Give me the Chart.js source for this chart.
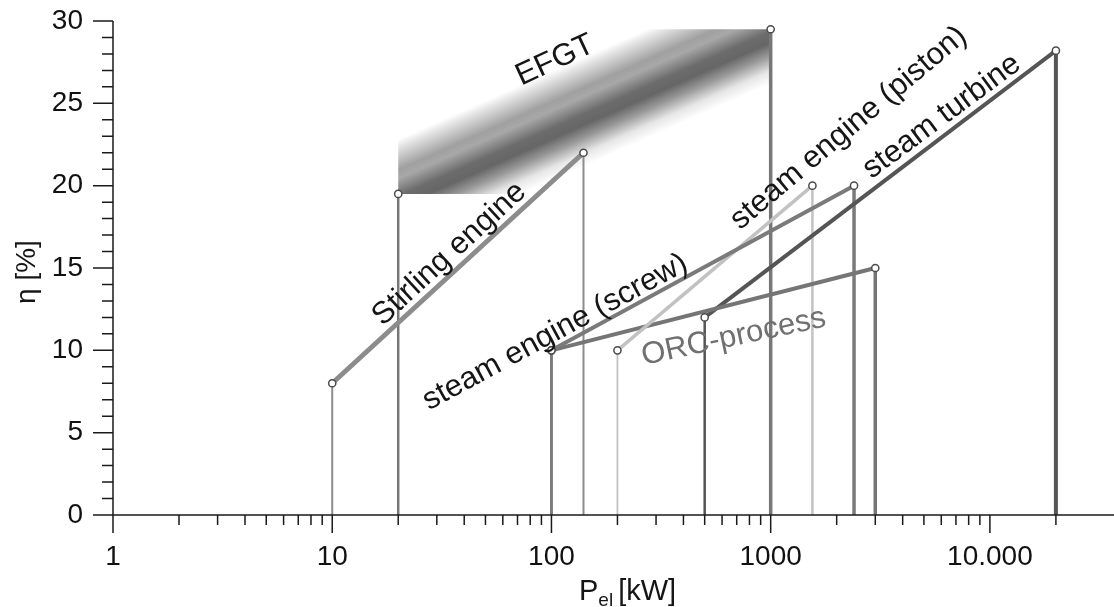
<!DOCTYPE html>
<html><head><meta charset="utf-8">
<script src="https://cdn.jsdelivr.net/npm/chart.js@4/dist/chart.umd.min.js"></script>
<style>html,body{margin:0;padding:0;background:#fff;}#wrap{position:relative;width:1114px;height:607px;}</style>
</head><body><div id="wrap"><canvas id="c"></canvas></div>
<script>
// ---- data ----
const seriesNames = ['Stirling engine', 'EFGT', 'steam engine (screw)', 'steam engine (piston)', 'ORC-process', 'steam turbine'];
const powerStart = [10, 20, 100, 200, 100, 500];        // kW
const powerEnd   = [140, 1000, 2400, 1550, 3000, 20000]; // kW
const effStart   = [8, 19.5, 10, 10, 10, 12];            // %
const effEnd     = [22, 29.5, 20, 20, 15, 28.2];         // %
const xTickValues = [1, 10, 100, 1000, 10000];
const xTickLabels = ['1', '10', '100', '1000', '10.000'];
const yTickValues = [0, 5, 10, 15, 20, 25, 30];

// ---- styles ----
const FONT = '"Liberation Sans", Arial, Helvetica, sans-serif';
const seriesColors = ['#8c8c8c', '#777777', '#7a7a7a', '#c2c2c2', '#757575', '#555555'];
const seriesWidths = [5, 0, 4, 3.5, 4, 4];
const dropStartWidths = [2, 2.5, 2.5, 1.8, 2.5, 2.5];
const dropEndWidths = [2, 3.5, 3.5, 2.5, 3.5, 4];
const EFGT = 1;
// label annotations (anchor in data coords, angle in degrees)
const labelDefs = [
  {s: 0, x: 34.2, y: 15.85, angle: 42.5, color: '#151515'},
  {s: 1, x: 104, y: 27.6, angle: 25, color: '#151515'},
  {s: 2, x: 104, y: 11.1, angle: 28.5, color: '#151515'},
  {s: 3, x: 2270, y: 23.5, angle: 40, color: '#151515'},
  {s: 4, x: 678, y: 10.8, angle: 12, color: '#707070'},
  {s: 5, x: 6040, y: 24.2, angle: 36.5, color: '#151515'}
];

function efgtGradient(c) {
  const chart = c.chart;
  const xs = chart.scales.x, ys = chart.scales.y;
  if (!chart.chartArea || !xs || !ys) return '#888';
  const x0 = xs.getPixelForValue(powerStart[EFGT]), y0 = ys.getPixelForValue(effStart[EFGT]);
  const x1 = xs.getPixelForValue(powerEnd[EFGT]), y1 = ys.getPixelForValue(effEnd[EFGT]);
  if (!isFinite(x0) || !isFinite(y0) || !isFinite(x1) || !isFinite(y1)) return '#888';
  const dx = x1 - x0, dy = y1 - y0, len = Math.hypot(dx, dy);
  const nx = dy / len, ny = -dx / len; // points to upper-left side
  const hw = 50;
  const g = chart.ctx.createLinearGradient(x0 + nx * hw, y0 + ny * hw, x0 - nx * hw, y0 - ny * hw);
  g.addColorStop(0, '#ffffff');
  g.addColorStop(0.08, '#e2e2e2');
  g.addColorStop(0.28, '#a0a0a0');
  g.addColorStop(0.36, '#a8a8a8');
  g.addColorStop(0.52, '#6c6c6c');
  g.addColorStop(0.62, '#666666');
  g.addColorStop(0.74, '#9a9a9a');
  g.addColorStop(0.88, '#e6e6e6');
  g.addColorStop(1, '#ffffff');
  return g;
}

const datasets = [];
// markers (drawn on top: first dataset)
const markerPts = [];
for (let i = 0; i < seriesNames.length; i++) {
  markerPts.push({x: powerStart[i], y: effStart[i]}, {x: powerEnd[i], y: effEnd[i]});
}
datasets.push({type: 'scatter', label: 'markers', data: markerPts, showLine: false, pointRadius: 3.6,
  pointBackgroundColor: '#ffffff', pointBorderColor: '#4a4a4a', pointBorderWidth: 1.5, clip: false});
// series lines
for (let i = 0; i < seriesNames.length; i++) {
  if (i === EFGT) continue;
  datasets.push({type: 'line', label: seriesNames[i],
    data: [{x: powerStart[i], y: effStart[i]}, {x: powerEnd[i], y: effEnd[i]}],
    borderColor: seriesColors[i], borderWidth: seriesWidths[i], pointRadius: 0, tension: 0, clip: false});
}
// drop lines
for (let i = 0; i < seriesNames.length; i++) {
  datasets.push({type: 'line', label: seriesNames[i] + ' start',
    data: [{x: powerStart[i], y: effStart[i]}, {x: powerStart[i], y: 0}],
    borderColor: seriesColors[i], borderWidth: dropStartWidths[i], pointRadius: 0, clip: false});
  datasets.push({type: 'line', label: seriesNames[i] + ' end',
    data: [{x: powerEnd[i], y: effEnd[i]}, {x: powerEnd[i], y: 0}],
    borderColor: seriesColors[i], borderWidth: dropEndWidths[i], pointRadius: 0, clip: false});
}
// EFGT band (drawn first: last dataset)
datasets.push({type: 'line', label: seriesNames[EFGT], efgtBand: true,
  data: [{x: powerStart[EFGT], y: effStart[EFGT]}, {x: powerEnd[EFGT], y: effEnd[EFGT]}],
  borderColor: efgtGradient, borderWidth: 100, borderCapStyle: 'square', pointRadius: 0, clip: false});

const bandClip = {
  id: 'bandClip',
  beforeDatasetDraw(chart, args) {
    if (!chart.data.datasets[args.index].efgtBand) return;
    const xs = chart.scales.x, ys = chart.scales.y, ctx = chart.ctx;
    const l = xs.getPixelForValue(powerStart[EFGT]), r = xs.getPixelForValue(powerEnd[EFGT]);
    const t = ys.getPixelForValue(effEnd[EFGT]), b = ys.getPixelForValue(effStart[EFGT]);
    ctx.save(); ctx.beginPath(); ctx.rect(l, t, r - l, b - t); ctx.clip();
  },
  afterDatasetDraw(chart, args) {
    if (chart.data.datasets[args.index].efgtBand) chart.ctx.restore();
  }
};

const axesAndText = {
  id: 'axesAndText',
  afterDraw(chart) {
    const ctx = chart.ctx, xs = chart.scales.x, ys = chart.scales.y;
    const x0 = xs.getPixelForValue(xTickValues[0]);
    const yb = ys.getPixelForValue(0), yt = ys.getPixelForValue(yTickValues[yTickValues.length - 1]);
    ctx.save();
    ctx.strokeStyle = '#1a1a1a'; ctx.lineWidth = 1.5; ctx.lineCap = 'butt';
    ctx.beginPath();
    ctx.moveTo(x0, yt); ctx.lineTo(x0, yb);
    for (let v = 0; v <= 30; v++) {
      const y = ys.getPixelForValue(v);
      const len = v % 5 === 0 ? 20 : 11;
      ctx.moveTo(x0 - len, y); ctx.lineTo(x0, y);
    }
    ctx.moveTo(x0 - 16, yb); ctx.lineTo(chart.width, yb);
    for (const d of xTickValues) {
      const px = xs.getPixelForValue(d);
      ctx.moveTo(px, yb); ctx.lineTo(px, yb + 18);
      for (let m = 2; m <= 9; m++) {
        const v = m * d;
        if (v > powerEnd[5]) break;
        const p = xs.getPixelForValue(v);
        ctx.moveTo(p, yb); ctx.lineTo(p, yb + 10);
      }
    }
    ctx.stroke();

    // in-plot labels
    ctx.textAlign = 'center'; ctx.textBaseline = 'middle';
    for (const L of labelDefs) {
      const px = xs.getPixelForValue(L.x), py = ys.getPixelForValue(L.y);
      ctx.save();
      ctx.translate(px, py); ctx.rotate(-L.angle * Math.PI / 180);
      ctx.font = '31px ' + FONT; ctx.fillStyle = L.color;
      ctx.fillText(seriesNames[L.s], 0, 0);
      ctx.restore();
    }

    // y-axis title
    ctx.save();
    ctx.translate(27, (chart.chartArea.top + chart.chartArea.bottom) / 2 + 4);
    ctx.rotate(-Math.PI / 2);
    ctx.font = '28px ' + FONT; ctx.fillStyle = '#151515';
    ctx.fillText('η [%]', 0, 0);
    ctx.restore();

    // x-axis title P_el [kW]
    ctx.font = '29px ' + FONT; ctx.fillStyle = '#151515';
    ctx.textAlign = 'left'; ctx.textBaseline = 'alphabetic';
    const tx = 579, ty = 600;
    ctx.fillText('P', tx, ty);
    const wP = ctx.measureText('P').width;
    ctx.font = '19px ' + FONT;
    ctx.fillText('el', tx + wP, ty + 6);
    const wE = ctx.measureText('el').width;
    ctx.font = '29px ' + FONT;
    ctx.fillText(' [kW]', tx + wP + wE - 3, ty);
    ctx.restore();
  }
};

new Chart(document.getElementById('c'), {
  type: 'line',
  data: {datasets},
  options: {
    responsive: true, maintainAspectRatio: false, animation: false,
    layout: {padding: {top: 21, right: 2, left: 0, bottom: 0}},
    plugins: {legend: {display: false}, tooltip: {enabled: false}},
    scales: {
      x: {
        type: 'logarithmic', min: 1, max: 34750,
        grid: {display: false, drawTicks: false, tickLength: 0},
        border: {display: false},
        afterBuildTicks: (s) => { s.ticks = xTickValues.map(v => ({value: v, major: true})); },
        afterFit: (s) => { s.height = 92; s.paddingLeft = 0; s.paddingRight = 0; },
        ticks: {autoSkip: false, maxRotation: 0, minRotation: 0, padding: 25, color: '#111',
          font: {size: 28, family: FONT},
          callback: (v) => { const k = xTickValues.indexOf(v); return k >= 0 ? xTickLabels[k] : ''; }}
      },
      y: {
        type: 'linear', min: 0, max: 30,
        grid: {display: false, drawTicks: false, tickLength: 0},
        border: {display: false},
        afterBuildTicks: (s) => { s.ticks = yTickValues.map(v => ({value: v})); },
        afterFit: (s) => { s.width = 113; s.paddingTop = 0; s.paddingBottom = 0; },
        ticks: {padding: 30, color: '#111', font: {size: 28, family: FONT},
          callback: (v) => String(v)}
      }
    }
  },
  plugins: [bandClip, axesAndText]
});
</script>
</body></html>
